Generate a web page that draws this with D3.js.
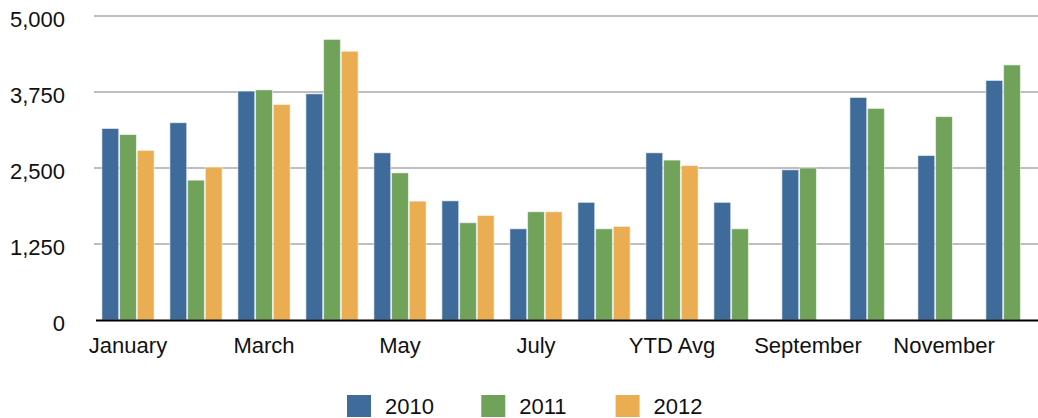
<!DOCTYPE html>
<html>
<head>
<meta charset="utf-8">
<script src="https://cdn.jsdelivr.net/npm/d3@7"></script>
<style>
  body { margin: 0; background: #fff; }
  text { font-family: "Liberation Sans", Arial, sans-serif; fill: #111; }
</style>
</head>
<body>
<svg id="chart" width="1038" height="418"></svg>
<script>
// Chart data
var categories = ["January", "February", "March", "April", "May", "June", "July",
    "Summer", "YTD Avg", "August", "September", "October", "November", "December"];
var seriesNames = ["2010", "2011", "2012"];
var values2010 = [3150, 3245, 3765, 3720, 2750, 1960, 1500, 1935, 2750, 1935, 2470, 3660, 2705, 3940];
var values2011 = [3050, 2300, 3785, 4615, 2420, 1600, 1780, 1500, 2630, 1500, 2500, 3480, 3345, 4195];
var values2012 = [2790, 2515, 3545, 4420, 1955, 1720, 1780, 1540, 2540, null, null, null, null, null];
var yTicks = [0, 1250, 2500, 3750, 5000];
var colors = ["#3e6b9a", "#70a25a", "#eaad51"];

var allSeries = [values2010, values2011, values2012];

var svg = d3.select("#chart"),
    plotLeft = 94,
    plotRight = 1038,
    plotTop = 16,
    plotBottom = 320;

// Scales
var x0 = d3.scaleBand()
    .domain(categories)
    .range([plotLeft, plotLeft + 68 * categories.length])
    .paddingInner(0.206)
    .paddingOuter(0.103);
var x1 = d3.scaleBand()
    .domain(seriesNames)
    .range([0, x0.bandwidth()])
    .padding(0.05);
var y = d3.scaleLinear()
    .domain([0, 5000])
    .range([plotBottom, plotTop]);

// Gridlines and y labels
var yAxis = svg.append("g")
    .call(d3.axisLeft(y).tickValues(yTicks).tickSize(0).tickFormat(d3.format(",")));
yAxis.select(".domain").remove();
yAxis.selectAll("text")
    .attr("x", 65)
    .attr("dy", "0.48em")
    .attr("font-size", "22px")
    .attr("font-family", "Liberation Sans, Arial, sans-serif")
    .attr("fill", "#111");
svg.append("g").selectAll("line")
    .data(yTicks.filter(function (d) { return d > 0; }))
    .enter().append("line")
    .attr("x1", plotLeft)
    .attr("x2", plotRight)
    .attr("y1", function (d) { return y(d); })
    .attr("y2", function (d) { return y(d); })
    .attr("stroke", "#a8a8a8")
    .attr("stroke-width", 1.6);

// Bars
var groups = svg.append("g").selectAll("g")
    .data(categories)
    .enter().append("g")
    .attr("transform", function (d) { return "translate(" + x0(d) + ",0)"; });
groups.selectAll("rect")
    .data(function (d, i) {
        return seriesNames.map(function (s, j) {
            return { key: s, value: allSeries[j][i], color: colors[j] };
        }).filter(function (e) { return e.value != null; });
    })
    .enter().append("rect")
    .attr("x", function (d) { return x1(d.key); })
    .attr("y", function (d) { return y(d.value); })
    .attr("width", x1.bandwidth())
    .attr("height", function (d) { return plotBottom - y(d.value); })
    .attr("fill", function (d) { return d.color; })
    .attr("stroke", "rgba(255,255,255,0.55)")
    .attr("stroke-width", 1);

// X axis
svg.append("line")
    .attr("x1", 96)
    .attr("x2", plotRight)
    .attr("y1", plotBottom + 0.5)
    .attr("y2", plotBottom + 0.5)
    .attr("stroke", "#000")
    .attr("stroke-width", 2.2);
var xAxis = svg.append("g")
    .attr("transform", "translate(0," + plotBottom + ")")
    .call(d3.axisBottom(x0)
        .tickValues(categories.filter(function (d, i) { return i % 2 === 0; }))
        .tickSize(0));
xAxis.select(".domain").remove();
xAxis.selectAll("text")
    .attr("y", 33)
    .attr("dy", 0)
    .attr("font-size", "22px")
    .attr("font-family", "Liberation Sans, Arial, sans-serif")
    .attr("fill", "#111");

// Legend
var legend = svg.append("g").selectAll("g")
    .data(seriesNames)
    .enter().append("g")
    .attr("transform", function (d, i) { return "translate(" + (347 + i * 134.3) + ",395)"; });
legend.append("rect")
    .attr("width", 24)
    .attr("height", 22)
    .attr("fill", function (d, i) { return colors[i]; });
legend.append("text")
    .attr("x", 38)
    .attr("y", 19)
    .attr("font-size", "22px")
    .text(function (d) { return d; });
</script>
</body>
</html>
